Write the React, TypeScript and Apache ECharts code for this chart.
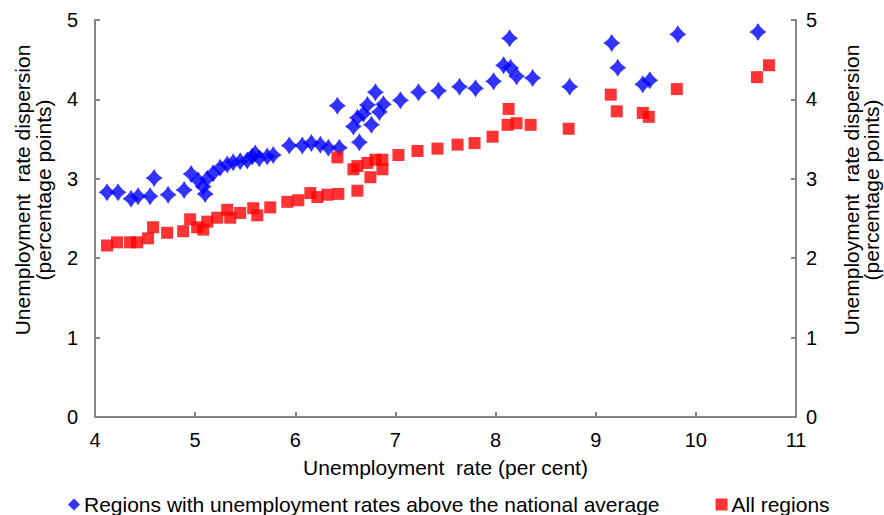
import React, { useEffect, useRef } from "react";
import * as echarts from "echarts";

const blueX = [4.12, 4.23, 4.36, 4.43, 4.55, 4.59, 4.73, 4.89, 4.96, 5.03, 5.08, 5.10, 5.12, 5.18, 5.25, 5.32, 5.38, 5.45, 5.52, 5.57, 5.60, 5.64, 5.72, 5.78, 5.94, 6.07, 6.16, 6.25, 6.33, 6.44, 6.42, 6.58, 6.62, 6.64, 6.68, 6.72, 6.76, 6.80, 6.84, 6.88, 7.05, 7.23, 7.43, 7.64, 7.80, 7.98, 8.08, 8.15, 8.14, 8.21, 8.37, 8.74, 9.16, 9.22, 9.47, 9.54, 9.82, 10.62];
const blueY = [2.83, 2.83, 2.75, 2.78, 2.78, 3.01, 2.80, 2.86, 3.06, 2.98, 2.90, 2.81, 3.00, 3.07, 3.14, 3.18, 3.21, 3.22, 3.23, 3.28, 3.32, 3.26, 3.28, 3.30, 3.42, 3.42, 3.45, 3.43, 3.39, 3.39, 3.92, 3.66, 3.77, 3.46, 3.82, 3.93, 3.68, 4.09, 3.84, 3.94, 3.99, 4.09, 4.11, 4.16, 4.14, 4.23, 4.43, 4.40, 4.77, 4.29, 4.27, 4.16, 4.71, 4.40, 4.19, 4.24, 4.82, 4.85];

const redX = [4.12, 4.22, 4.35, 4.42, 4.53, 4.58, 4.72, 4.88, 4.95, 5.02, 5.08, 5.12, 5.22, 5.32, 5.35, 5.45, 5.58, 5.62, 5.75, 5.92, 6.03, 6.15, 6.22, 6.32, 6.43, 6.42, 6.58, 6.62, 6.62, 6.72, 6.75, 6.80, 6.87, 6.87, 7.03, 7.22, 7.42, 7.62, 7.79, 7.97, 8.12, 8.13, 8.21, 8.35, 8.73, 9.15, 9.21, 9.47, 9.53, 9.81, 10.61, 10.73];
const redY = [2.16, 2.20, 2.20, 2.20, 2.25, 2.39, 2.32, 2.34, 2.49, 2.39, 2.36, 2.46, 2.51, 2.61, 2.51, 2.57, 2.63, 2.54, 2.64, 2.71, 2.73, 2.82, 2.77, 2.80, 2.81, 3.27, 3.12, 2.85, 3.16, 3.20, 3.02, 3.24, 3.24, 3.12, 3.30, 3.35, 3.38, 3.43, 3.45, 3.53, 3.68, 3.88, 3.70, 3.68, 3.63, 4.06, 3.85, 3.83, 3.78, 4.13, 4.28, 4.43];

const xTicks = [4, 5, 6, 7, 8, 9, 10, 11];
const yTicks = [0, 1, 2, 3, 4, 5];

const seriesNames = [
  "Regions with unemployment rates above the national average",
  "All regions",
];
const xTitle = "Unemployment  rate (per cent)";
const yTitle1 = "Unemployment  rate dispersion";
const yTitle2 = "(percentage points)";

const FONT = "'Liberation Sans', Arial, sans-serif";
const diamondPath =
  "path://M0,-10 Q3.5,-3.5 10,0 Q3.5,3.5 0,10 Q-3.5,3.5 -10,0 Q-3.5,-3.5 0,-10 Z";

export default function App() {
  const ref = useRef<HTMLDivElement>(null);
  useEffect(() => {
    if (!ref.current) return;
    const chart = echarts.init(ref.current, null, { renderer: "svg" });
    const axisLine = { show: true, lineStyle: { color: "#868686", width: 2 } };
    const axisTick = { show: true, inside: true, length: 5, lineStyle: { color: "#868686", width: 2 } };
    const yAxisCommon = {
      type: "value",
      min: yTicks[0],
      max: yTicks[yTicks.length - 1],
      interval: 1,
      splitLine: { show: false },
      axisLine,
      axisTick,
    };
    const left = 95, right = 796, top = 20, bottom = 417;
    const midY = 190;
    const titleFont = `21px ${FONT}`;
    chart.setOption({
      animation: false,
      textStyle: { fontFamily: FONT },
      grid: { left, right: 884 - right, top, bottom: 515 - bottom, containLabel: false },
      xAxis: {
        type: "value",
        min: xTicks[0],
        max: xTicks[xTicks.length - 1],
        interval: 1,
        splitLine: { show: false },
        axisLine,
        axisTick,
        axisLabel: { color: "#000", fontSize: 20, margin: 13, fontFamily: FONT },
        name: xTitle,
        nameLocation: "middle",
        nameGap: 40,
        nameTextStyle: { color: "#000", fontSize: 21, fontFamily: FONT },
      },
      yAxis: [
        {
          ...yAxisCommon,
          position: "left",
          axisLabel: { color: "#000", fontSize: 20, margin: 17, fontFamily: FONT },
        },
        {
          ...yAxisCommon,
          position: "right",
          axisLabel: { color: "#000", fontSize: 20, margin: 10, fontFamily: FONT },
        },
      ],
      legend: {
        left: 63,
        top: 489,
        itemWidth: 12,
        itemHeight: 12,
        itemGap: 56,
        textStyle: { color: "#000", fontSize: 21, fontFamily: FONT, padding: [0, 0, 0, -1] },
        data: [
          { name: seriesNames[0], icon: "diamond" },
          { name: seriesNames[1], icon: "rect" },
        ],
      },
      graphic: [
        { type: "text", x: 22, y: midY, rotation: Math.PI / 2, style: { text: yTitle1, fill: "#000", font: titleFont, textAlign: "center", textVerticalAlign: "middle" } },
        { type: "text", x: 43, y: midY, rotation: Math.PI / 2, style: { text: yTitle2, fill: "#000", font: titleFont, textAlign: "center", textVerticalAlign: "middle" } },
        { type: "text", x: 851, y: midY, rotation: Math.PI / 2, style: { text: yTitle1, fill: "#000", font: titleFont, textAlign: "center", textVerticalAlign: "middle" } },
        { type: "text", x: 871, y: midY, rotation: Math.PI / 2, style: { text: yTitle2, fill: "#000", font: titleFont, textAlign: "center", textVerticalAlign: "middle" } },
      ],
      series: [
        {
          name: seriesNames[0],
          type: "scatter",
          yAxisIndex: 0,
          symbol: diamondPath,
          symbolSize: [17, 18],
          itemStyle: { color: "#0000FF" },
          data: blueX.map((x, i) => [x, blueY[i]]),
        },
        {
          name: seriesNames[1],
          type: "scatter",
          yAxisIndex: 0,
          symbol: "rect",
          symbolSize: 12,
          itemStyle: { color: "#FF0000" },
          data: redX.map((x, i) => [x, redY[i]]),
        },
      ],
    });
    return () => chart.dispose();
  }, []);
  return (
    <div
      ref={ref}
      style={{ position: "absolute", left: 0, top: 0, width: 884, height: 515, background: "#fff" }}
    />
  );
}
